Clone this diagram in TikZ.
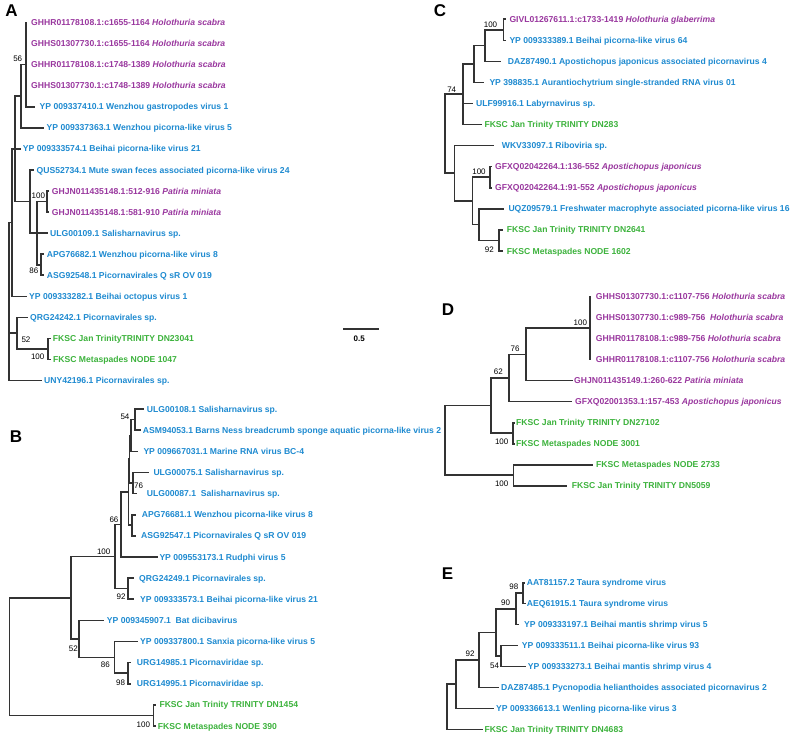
\documentclass[tikz,border=0pt]{standalone}
\usepackage{fontspec}
\setmainfont{Liberation Sans}
\usetikzlibrary{positioning}

\definecolor{virblue}{RGB}{30,138,208}
\definecolor{echpurple}{RGB}{153,55,158}
\definecolor{fkscgreen}{RGB}{60,178,60}

\tikzset{
  branch/.style={draw=black!80, line width=1.6pt, line cap=rect},
  leaf/.style={anchor=west, inner sep=0pt, text height=6.2pt, text depth=0pt, font=\fontsize{8.6}{10}\selectfont\bfseries},
  virus/.style={leaf, text=virblue},
  holo/.style={leaf, text=echpurple},
  fksc/.style={leaf, text=fkscgreen},
  boot/.style={inner sep=0pt, font=\fontsize{8}{9}\selectfont},
  panel/.style={inner sep=0pt, font=\fontsize{17}{19}\selectfont\bfseries},
}

\begin{document}
\begin{tikzpicture}[x=1pt,y=-1pt]
    \useasboundingbox (0,0) rectangle (793,735);

    % A
    \node[panel] (labA) at (11.5,11) {A};
    \coordinate (a1) at (26,22.5);    \node[holo] (la1) at (31,22.5) {GHHR01178108.1:c1655-1164 \textit{Holothuria scabra}};
    \coordinate (a2) at (26,43.6);    \node[holo] (la2) at (31,43.6) {GHHS01307730.1:c1655-1164 \textit{Holothuria scabra}};
    \coordinate (a3) at (26,64.6);    \node[holo] (la3) at (31,64.6) {GHHR01178108.1:c1748-1389 \textit{Holothuria scabra}};
    \coordinate (a4) at (26,85.7);    \node[holo] (la4) at (31,85.7) {GHHS01307730.1:c1748-1389 \textit{Holothuria scabra}};
    \coordinate (a5) at (34,106.8);   \node[virus] (la5) at (39.5,106.8) {YP 009337410.1 Wenzhou gastropodes virus 1};
    \coordinate (a6) at (43,127.9);   \node[virus] (la6) at (46.5,127.9) {YP 009337363.1 Wenzhou picorna-like virus 5};
    \coordinate (a7) at (20,148.9);   \node[virus] (la7) at (22.7,148.9) {YP 009333574.1 Beihai picorna-like virus 21};
    \coordinate (a8) at (33.5,170.0); \node[virus] (la8) at (36.5,170.0) {QUS52734.1 Mute swan feces associated picorna-like virus 24};
    \coordinate (a9) at (48.5,191.1); \node[holo] (la9) at (51.7,191.1) {GHJN011435148.1:512-916 \textit{Patiria miniata}};
    \coordinate (a10) at (48.5,212.1); \node[holo] (la10) at (51.7,212.1) {GHJN011435148.1:581-910 \textit{Patiria miniata}};
    \coordinate (a11) at (46.7,233.2); \node[virus] (la11) at (50,233.2) {ULG00109.1 Salisharnavirus sp.};
    \coordinate (a12) at (43.5,254.3); \node[virus] (la12) at (46.7,254.3) {APG76682.1 Wenzhou picorna-like virus 8};
    \coordinate (a13) at (43.5,275.3); \node[virus] (la13) at (46.7,275.3) {ASG92548.1 Picornavirales Q sR OV 019};
    \coordinate (a14) at (26.5,296.4); \node[virus] (la14) at (29,296.4) {YP 009333282.1 Beihai octopus virus 1};
    \coordinate (a15) at (27.5,317.5); \node[virus] (la15) at (30,317.5) {QRG24242.1 Picornavirales sp.};
    \coordinate (a16) at (50,338.6);   \node[fksc] (la16) at (52.7,338.6) {FKSC Jan TrinityTRINITY DN23041};
    \coordinate (a17) at (50,359.6);   \node[fksc] (la17) at (53,359.6) {FKSC Metaspades NODE 1047};
    \coordinate (a18) at (40.7,380.7); \node[virus] (la18) at (44,380.7) {UNY42196.1 Picornavirales sp.};
    \coordinate (nA1) at (26,64.65);
    \coordinate (nA2) at (21,96.3);
    \coordinate (nG) at (47,201.6);
    \coordinate (nAPG) at (40.7,264.8);
    \coordinate (nP) at (36.7,233.2);
    \coordinate (nQ) at (30,201.6);
    \coordinate (nA3) at (15,148.95);
    \coordinate (nA4) at (12,222.7);
    \coordinate (nF) at (48,349.1);
    \coordinate (nQRG) at (17,333.3);
    \coordinate (nA0) at (9,301.7);
    \draw[branch] (nA1) |- (a1) (nA1) |- (a4) (nA1) |- (a5);
    \draw[branch] (nA2) |- (nA1) (nA2) |- (a6);
    \draw[branch] (nG) |- (a9) (nG) |- (a10);
    \draw[branch] (nAPG) |- (a12) (nAPG) |- (a13);
    \draw[branch] (nP) |- (nG) (nP) |- (a11) (nP) |- (nAPG);
    \draw[branch] (nQ) |- (a8) (nQ) |- (nP);
    \draw[branch] (nA3) |- (nA2) (nA3) |- (a7) (nA3) |- (nQ);
    \draw[branch] (nA4) |- (nA3) (nA4) |- (a14);
    \draw[branch] (nF) |- (a16) (nF) |- (a17);
    \draw[branch] (nQRG) |- (a15) (nQRG) |- (nF);
    \draw[branch] (nA0) |- (nA4) (nA0) |- (nQRG) (nA0) |- (a18);
    \node[boot] (bA1) at (17.7,58.3) {56};
    \node[boot] (bA2) at (38.3,196) {100};
    \node[boot] (bA3) at (33.8,270.5) {86};
    \node[boot] (bA4) at (26,339.5) {52};
    \node[boot] (bA5) at (37.7,357) {100};
    % scale bar
    \coordinate (sb1) at (343.3,329.3);
    \coordinate (sb2) at (379.3,329.3);
    \draw[branch, line cap=butt] (sb1) -- (sb2);
    \node[boot, font=\fontsize{8}{9}\selectfont\bfseries] (sbl) at (359.3,338.5) {0.5};

    % B
    \node[panel] (labB) at (16,437) {B};
    \coordinate (b1) at (143.3,409.0); \node[virus] (lb1) at (146.7,409.0) {ULG00108.1 Salisharnavirus sp.};
    \coordinate (b2) at (140,430.1);   \node[virus] (lb2) at (142.7,430.1) {ASM94053.1 Barns Ness breadcrumb sponge aquatic picorna-like virus 2};
    \coordinate (b3) at (136.7,451.3); \node[virus] (lb3) at (143.3,451.3) {YP 009667031.1 Marine RNA virus BC-4};
    \coordinate (b4) at (148.3,472.4); \node[virus] (lb4) at (153.3,472.4) {ULG00075.1 Salisharnavirus sp.};
    \coordinate (b5) at (136,493.5);   \node[virus] (lb5) at (146.7,493.5) {ULG00087.1~ Salisharnavirus sp.};
    \coordinate (b6) at (135,514.7);   \node[virus] (lb6) at (141.7,514.7) {APG76681.1 Wenzhou picorna-like virus 8};
    \coordinate (b7) at (135,535.8);   \node[virus] (lb7) at (141,535.8) {ASG92547.1 Picornavirales Q sR OV 019};
    \coordinate (b8) at (156.7,556.9); \node[virus] (lb8) at (159.3,556.9) {YP 009553173.1 Rudphi virus 5};
    \coordinate (b9) at (133.5,578.0); \node[virus] (lb9) at (139,578.0) {QRG24249.1 Picornavirales sp.};
    \coordinate (b10) at (133.5,599.2); \node[virus] (lb10) at (140,599.2) {YP 009333573.1 Beihai picorna-like virus 21};
    \coordinate (b11) at (103.3,620.3); \node[virus] (lb11) at (106.7,620.3) {YP 009345907.1~ Bat dicibavirus};
    \coordinate (b12) at (136.7,641.4); \node[virus] (lb12) at (140,641.4) {YP 009337800.1 Sanxia picorna-like virus 5};
    \coordinate (b13) at (130,662.6);   \node[virus] (lb13) at (136.7,662.6) {URG14985.1 Picornaviridae sp.};
    \coordinate (b14) at (130,683.7);   \node[virus] (lb14) at (136.7,683.7) {URG14995.1 Picornaviridae sp.};
    \coordinate (b15) at (155,704.8);   \node[fksc] (lb15) at (159.3,704.8) {FKSC Jan Trinity TRINITY DN1454};
    \coordinate (b16) at (155,726.0);   \node[fksc] (lb16) at (157.7,726.0) {FKSC Metaspades NODE 390};
    \coordinate (nB54) at (135,419.55);
    \coordinate (nBg) at (131,435.4);
    \coordinate (nB76) at (132.7,482.95);
    \coordinate (nBf) at (129.5,459.2);
    \coordinate (nBapg) at (132,525.25);
    \coordinate (nBe) at (128.3,492.2);
    \coordinate (nB66) at (120.7,524.55);
    \coordinate (nB92) at (127.7,588.6);
    \coordinate (nB100) at (115,556.6);
    \coordinate (nB98) at (127.7,673.15);
    \coordinate (nB86) at (114.3,657.3);
    \coordinate (nB52) at (79,638.8);
    \coordinate (nBx) at (70.7,597.7);
    \coordinate (nBf2) at (153.3,715.4);
    \coordinate (nB0) at (9.3,656.5);
    \draw[branch] (nB54) |- (b1) (nB54) |- (b2);
    \draw[branch] (nBg) |- (nB54) (nBg) |- (b3);
    \draw[branch] (nB76) |- (b4) (nB76) |- (b5);
    \draw[branch] (nBf) |- (nBg) (nBf) |- (nB76);
    \draw[branch] (nBapg) |- (b6) (nBapg) |- (b7);
    \draw[branch] (nBe) |- (nBf) (nBe) |- (nBapg);
    \draw[branch] (nB66) |- (nBe) (nB66) |- (b8);
    \draw[branch] (nB92) |- (b9) (nB92) |- (b10);
    \draw[branch] (nB100) |- (nB66) (nB100) |- (nB92);
    \draw[branch] (nB98) |- (b13) (nB98) |- (b14);
    \draw[branch] (nB86) |- (b12) (nB86) |- (nB98);
    \draw[branch] (nB52) |- (b11) (nB52) |- (nB86);
    \draw[branch] (nBx) |- (nB100) (nBx) |- (nB52);
    \draw[branch] (nBf2) |- (b15) (nBf2) |- (b16);
    \draw[branch] (nB0) |- (nBx) (nB0) |- (nBf2);
    \node[boot] (bB1) at (125,416.5) {54};
    \node[boot] (bB2) at (138.5,485.5) {76};
    \node[boot] (bB3) at (114,520) {66};
    \node[boot] (bB4) at (103.7,551.7) {100};
    \node[boot] (bB5) at (121,596.5) {92};
    \node[boot] (bB6) at (73.3,648.3) {52};
    \node[boot] (bB7) at (105.3,665) {86};
    \node[boot] (bB8) at (120.5,682.7) {98};
    \node[boot] (bB9) at (143.3,725) {100};

    % C
    \node[panel] (labC) at (440,11) {C};
    \coordinate (c1) at (505,19.3);    \node[holo] (lc1) at (509.3,19.3) {GIVL01267611.1:c1733-1419 \textit{Holothuria glaberrima}};
    \coordinate (c2) at (505,40.4);    \node[virus] (lc2) at (509.3,40.4) {YP 009333389.1 Beihai picorna-like virus 64};
    \coordinate (c3) at (500,61.4);    \node[virus] (lc3) at (507.7,61.4) {DAZ87490.1 Apostichopus japonicus associated picornavirus 4};
    \coordinate (c4) at (482.7,82.5);  \node[virus] (lc4) at (489.3,82.5) {YP 398835.1 Aurantiochytrium single-stranded RNA virus 01};
    \coordinate (c5) at (471.7,103.5); \node[virus] (lc5) at (476,103.5) {ULF99916.1 Labyrnavirus sp.};
    \coordinate (c6) at (481,124.6);   \node[fksc] (lc6) at (484.3,124.6) {FKSC Jan Trinity TRINITY DN283};
    \coordinate (c7) at (493.3,145.7); \node[virus] (lc7) at (501.7,145.7) {WKV33097.1 Riboviria sp.};
    \coordinate (c8) at (491,166.7);   \node[holo] (lc8) at (495,166.7) {GFXQ02042264.1:136-552 \textit{Apostichopus japonicus}};
    \coordinate (c9) at (491,187.8);   \node[holo] (lc9) at (495,187.8) {GFXQ02042264.1:91-552 \textit{Apostichopus japonicus}};
    \coordinate (c10) at (503.3,208.8); \node[virus] (lc10) at (508.3,208.8) {UQZ09579.1 Freshwater macrophyte associated picorna-like virus 16};
    \coordinate (c11) at (501.7,229.9); \node[fksc] (lc11) at (506.7,229.9) {FKSC Jan Trinity TRINITY DN2641};
    \coordinate (c12) at (501.7,251.0); \node[fksc] (lc12) at (506.7,251.0) {FKSC Metaspades NODE 1602};
    \coordinate (nC100) at (503.3,29.85);
    \coordinate (nCa) at (485,45.6);
    \coordinate (nCb) at (474,64.05);
    \coordinate (nC74) at (462.7,94.3);
    \coordinate (nCg) at (490,177.25);
    \coordinate (nCf) at (499,240.45);
    \coordinate (nCu) at (479,224.6);
    \coordinate (nCl) at (472.3,200.9);
    \coordinate (nCw) at (454.3,173.3);
    \coordinate (nC0) at (445,133.8);
    \draw[branch] (nC100) |- (c1) (nC100) |- (c2);
    \draw[branch] (nCa) |- (nC100) (nCa) |- (c3);
    \draw[branch] (nCb) |- (nCa) (nCb) |- (c4);
    \draw[branch] (nC74) |- (nCb) (nC74) |- (c5) (nC74) |- (c6);
    \draw[branch] (nCg) |- (c8) (nCg) |- (c9);
    \draw[branch] (nCf) |- (c11) (nCf) |- (c12);
    \draw[branch] (nCu) |- (c10) (nCu) |- (nCf);
    \draw[branch] (nCl) |- (nCg) (nCl) |- (nCu);
    \draw[branch] (nCw) |- (c7) (nCw) |- (nCl);
    \draw[branch] (nC0) |- (nC74) (nC0) |- (nCw);
    \node[boot] (bC1) at (490.5,25) {100};
    \node[boot] (bC2) at (451.7,89.3) {74};
    \node[boot] (bC3) at (479,171.7) {100};
    \node[boot] (bC4) at (489.3,249.7) {92};

    % D
    \node[panel] (labD) at (448,310) {D};
    \coordinate (d1) at (590,296.7);   \node[holo] (ld1) at (595.7,296.7) {GHHS01307730.1:c1107-756 \textit{Holothuria scabra}};
    \coordinate (d2) at (590,317.7);   \node[holo] (ld2) at (595.7,317.7) {GHHS01307730.1:c989-756~ \textit{Holothuria scabra}};
    \coordinate (d3) at (590,338.7);   \node[holo] (ld3) at (595.7,338.7) {GHHR01178108.1:c989-756 \textit{Holothuria scabra}};
    \coordinate (d4) at (590,359.7);   \node[holo] (ld4) at (595.7,359.7) {GHHR01178108.1:c1107-756 \textit{Holothuria scabra}};
    \coordinate (d5) at (571.7,380.7); \node[holo] (ld5) at (574,380.7) {GHJN011435149.1:260-622 \textit{Patiria miniata}};
    \coordinate (d6) at (570.7,401.7); \node[holo] (ld6) at (575,401.7) {GFXQ02001353.1:157-453 \textit{Apostichopus japonicus}};
    \coordinate (d7) at (514.5,422.7); \node[fksc] (ld7) at (516,422.7) {FKSC Jan Trinity TRINITY DN27102};
    \coordinate (d8) at (514.5,443.7); \node[fksc] (ld8) at (516,443.7) {FKSC Metaspades NODE 3001};
    \coordinate (d9) at (591.7,464.7); \node[fksc] (ld9) at (596,464.7) {FKSC Metaspades NODE 2733};
    \coordinate (d10) at (565.7,485.7); \node[fksc] (ld10) at (571.7,485.7) {FKSC Jan Trinity TRINITY DN5059};
    \coordinate (nD100) at (590,328.2);
    \coordinate (nD76) at (525.7,354.45);
    \coordinate (nD62) at (509,378.1);
    \coordinate (nDf) at (512.7,433.2);
    \coordinate (nDa) at (490.7,405.65);
    \coordinate (nDb) at (513.3,475.2);
    \coordinate (nD0) at (445,440.4);
    \draw[branch] (nD100) |- (d1) (nD100) |- (d4);
    \draw[branch] (nD76) |- (nD100) (nD76) |- (d5);
    \draw[branch] (nD62) |- (nD76) (nD62) |- (d6);
    \draw[branch] (nDf) |- (d7) (nDf) |- (d8);
    \draw[branch] (nDa) |- (nD62) (nDa) |- (nDf);
    \draw[branch] (nDb) |- (d9) (nDb) |- (d10);
    \draw[branch] (nD0) |- (nDa) (nD0) |- (nDb);
    \node[boot] (bD1) at (580.3,322.3) {100};
    \node[boot] (bD2) at (515,348.3) {76};
    \node[boot] (bD3) at (498.3,372) {62};
    \node[boot] (bD4) at (501.7,441.7) {100};
    \node[boot] (bD5) at (501.7,483.7) {100};

    % E
    \node[panel] (labE) at (447.5,574) {E};
    \coordinate (e1) at (523.7,582.7);  \node[virus] (le1) at (526.7,582.7) {AAT81157.2 Taura syndrome virus};
    \coordinate (e2) at (525,603.65);   \node[virus] (le2) at (526.7,603.65) {AEQ61915.1 Taura syndrome virus};
    \coordinate (e3) at (518.3,624.6);  \node[virus] (le3) at (524,624.6) {YP 009333197.1 Beihai mantis shrimp virus 5};
    \coordinate (e4) at (516.7,645.55); \node[virus] (le4) at (521.7,645.55) {YP 009333511.1 Beihai picorna-like virus 93};
    \coordinate (e5) at (525,666.5);    \node[virus] (le5) at (527.7,666.5) {YP 009333273.1 Beihai mantis shrimp virus 4};
    \coordinate (e6) at (498.3,687.45); \node[virus] (le6) at (501,687.45) {DAZ87485.1 Pycnopodia helianthoides associated picornavirus 2};
    \coordinate (e7) at (493.3,708.4);  \node[virus] (le7) at (496,708.4) {YP 009336613.1 Wenling picorna-like virus 3};
    \coordinate (e8) at (481.7,729.35); \node[fksc] (le8) at (484.3,729.35) {FKSC Jan Trinity TRINITY DN4683};
    \coordinate (nE98) at (522.7,593.2);
    \coordinate (nE90) at (516,608.9);
    \coordinate (nE54) at (501,656);
    \coordinate (nEa) at (495.7,632.5);
    \coordinate (nE92) at (479,660);
    \coordinate (nEb) at (455.7,684.2);
    \coordinate (nE0) at (446.7,706.8);
    \draw[branch] (nE98) |- (e1) (nE98) |- (e2);
    \draw[branch] (nE90) |- (nE98) (nE90) |- (e3);
    \draw[branch] (nE54) |- (e4) (nE54) |- (e5);
    \draw[branch] (nEa) |- (nE90) (nEa) |- (nE54);
    \draw[branch] (nE92) |- (nEa) (nE92) |- (e6);
    \draw[branch] (nEb) |- (nE92) (nEb) |- (e7);
    \draw[branch] (nE0) |- (nEb) (nE0) |- (e8);
    \node[boot] (bE1) at (513.8,586.7) {98};
    \node[boot] (bE2) at (505.5,602.7) {90};
    \node[boot] (bE3) at (494.5,665.3) {54};
    \node[boot] (bE4) at (470,654) {92};
\end{tikzpicture}
\end{document}
